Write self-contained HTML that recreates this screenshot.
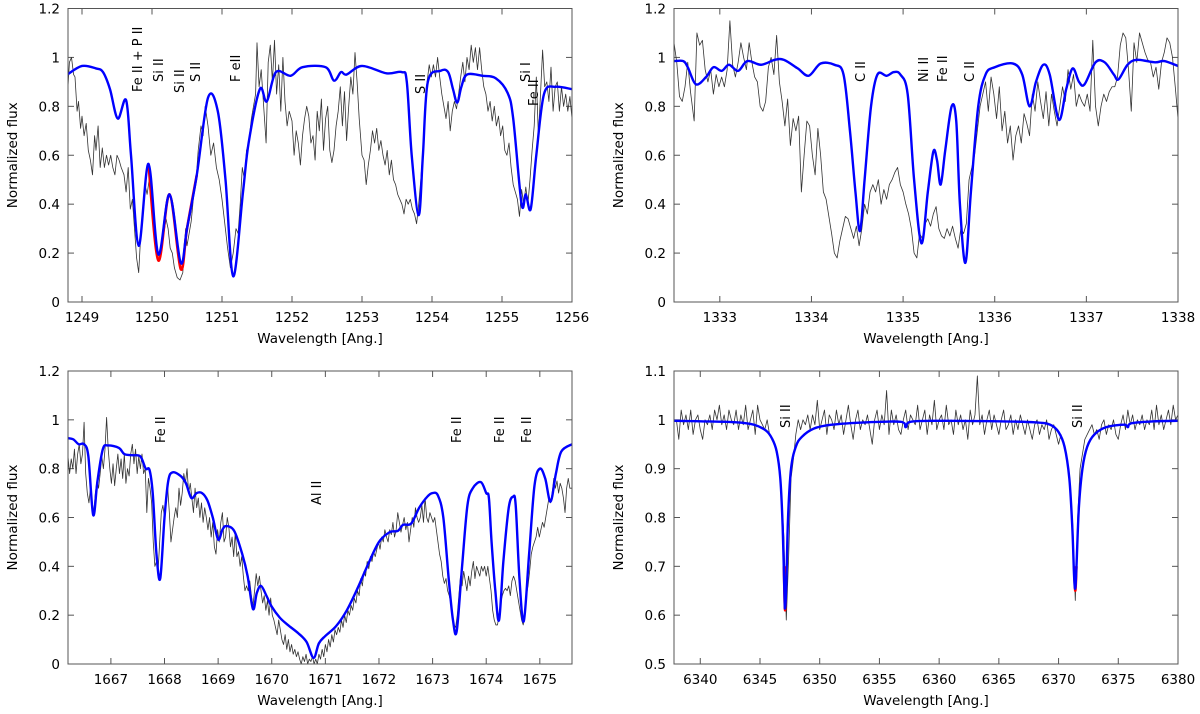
<!DOCTYPE html>
<html><head><meta charset="utf-8">
<style>
html,body{margin:0;padding:0;background:#fff;}
svg{display:block;font-family:"DejaVu Sans","Liberation Sans",sans-serif;}
</style></head>
<body>
<svg id="fig" width="1200" height="714" viewBox="0 0 1200 714" xmlns="http://www.w3.org/2000/svg"></svg>
<script>
// ---------- Panel 1 data (Si II 1250 region) ----------
const p1XTicks = [1249,1250,1251,1252,1253,1254,1255,1256];
const p1YTicks = [0,0.2,0.4,0.6,0.8,1,1.2];
const p1Obs = [[1248.8,0.88],[1248.82,0.98],[1248.85,1.0],[1248.88,0.93],[1248.9,0.92],[1248.93,0.78],[1248.95,0.82],[1248.98,0.71],[1249.0,0.76],[1249.03,0.68],[1249.06,0.73],[1249.09,0.62],[1249.12,0.58],[1249.15,0.52],[1249.18,0.68],[1249.2,0.62],[1249.23,0.72],[1249.26,0.55],[1249.29,0.63],[1249.32,0.55],[1249.35,0.6],[1249.38,0.56],[1249.41,0.6],[1249.44,0.55],[1249.47,0.52],[1249.5,0.6],[1249.53,0.58],[1249.56,0.55],[1249.6,0.52],[1249.63,0.45],[1249.66,0.55],[1249.69,0.38],[1249.72,0.42],[1249.75,0.3],[1249.78,0.18],[1249.81,0.12],[1249.84,0.28],[1249.87,0.35],[1249.9,0.48],[1249.93,0.44],[1249.96,0.5],[1249.99,0.4],[1250.02,0.32],[1250.05,0.22],[1250.08,0.18],[1250.11,0.2],[1250.14,0.25],[1250.17,0.28],[1250.2,0.34],[1250.23,0.3],[1250.26,0.22],[1250.29,0.2],[1250.32,0.14],[1250.36,0.1],[1250.4,0.09],[1250.44,0.12],[1250.48,0.3],[1250.5,0.23],[1250.53,0.28],[1250.56,0.33],[1250.6,0.45],[1250.63,0.5],[1250.66,0.62],[1250.7,0.72],[1250.73,0.68],[1250.76,0.8],[1250.8,0.72],[1250.84,0.6],[1250.88,0.65],[1250.92,0.55],[1250.96,0.5],[1251.0,0.42],[1251.04,0.32],[1251.08,0.22],[1251.12,0.14],[1251.16,0.2],[1251.2,0.3],[1251.23,0.28],[1251.26,0.4],[1251.29,0.55],[1251.32,0.5],[1251.35,0.62],[1251.38,0.65],[1251.42,0.75],[1251.45,0.8],[1251.48,0.85],[1251.5,1.06],[1251.53,0.88],[1251.56,0.95],[1251.6,0.78],[1251.63,0.65],[1251.66,0.98],[1251.69,1.05],[1251.72,0.9],[1251.75,1.07],[1251.78,0.85],[1251.81,0.97],[1251.84,0.78],[1251.87,1.0],[1251.9,0.82],[1251.93,0.72],[1251.96,0.78],[1252.0,0.74],[1252.03,0.6],[1252.06,0.7],[1252.09,0.65],[1252.12,0.56],[1252.15,0.68],[1252.18,0.75],[1252.21,0.8],[1252.24,0.76],[1252.27,0.65],[1252.3,0.68],[1252.33,0.58],[1252.36,0.78],[1252.39,0.7],[1252.42,0.83],[1252.45,0.62],[1252.48,0.75],[1252.51,0.8],[1252.54,0.62],[1252.57,0.57],[1252.6,0.62],[1252.63,0.72],[1252.66,0.78],[1252.69,0.88],[1252.72,0.72],[1252.75,0.86],[1252.78,0.66],[1252.81,0.8],[1252.84,0.92],[1252.87,0.85],[1252.9,1.02],[1252.93,0.9],[1252.96,0.75],[1253.0,0.6],[1253.03,0.58],[1253.06,0.48],[1253.09,0.56],[1253.12,0.62],[1253.15,0.7],[1253.18,0.65],[1253.21,0.71],[1253.24,0.62],[1253.27,0.66],[1253.3,0.6],[1253.33,0.56],[1253.36,0.62],[1253.39,0.52],[1253.42,0.58],[1253.45,0.5],[1253.48,0.48],[1253.51,0.44],[1253.54,0.42],[1253.57,0.4],[1253.6,0.36],[1253.63,0.42],[1253.66,0.4],[1253.69,0.42],[1253.72,0.38],[1253.75,0.36],[1253.78,0.32],[1253.81,0.4],[1253.84,0.5],[1253.87,0.62],[1253.9,0.8],[1253.93,0.9],[1253.96,0.97],[1253.99,0.92],[1254.02,0.97],[1254.05,0.92],[1254.08,1.0],[1254.11,0.92],[1254.14,0.85],[1254.17,0.8],[1254.2,0.75],[1254.23,0.82],[1254.26,0.7],[1254.29,0.78],[1254.32,0.82],[1254.35,0.79],[1254.38,0.85],[1254.41,0.92],[1254.44,0.98],[1254.47,0.9],[1254.5,1.0],[1254.53,0.95],[1254.56,1.05],[1254.59,0.98],[1254.62,1.04],[1254.65,0.95],[1254.68,1.04],[1254.71,0.95],[1254.74,0.88],[1254.77,0.85],[1254.8,0.78],[1254.83,0.82],[1254.86,0.74],[1254.89,0.8],[1254.92,0.72],[1254.95,0.76],[1254.98,0.68],[1255.01,0.72],[1255.04,0.62],[1255.07,0.6],[1255.1,0.65],[1255.13,0.55],[1255.16,0.48],[1255.19,0.45],[1255.22,0.42],[1255.25,0.35],[1255.28,0.46],[1255.31,0.4],[1255.34,0.47],[1255.37,0.4],[1255.4,0.5],[1255.43,0.62],[1255.46,0.72],[1255.49,0.92],[1255.52,0.68],[1255.55,0.85],[1255.58,1.03],[1255.61,0.88],[1255.64,0.9],[1255.67,0.82],[1255.7,0.96],[1255.73,0.78],[1255.76,0.88],[1255.79,0.9],[1255.82,0.78],[1255.85,0.88],[1255.88,0.8],[1255.91,0.85],[1255.94,0.78],[1255.97,0.84],[1256.0,0.75]];
const p1Model = [[1248.79,0.93],[1249.0,0.965],[1249.2,0.955],[1249.3,0.94],[1249.4,0.87],[1249.51,0.75],[1249.63,0.825],[1249.7,0.6],[1249.81,0.23],[1249.95,0.565],[1250.09,0.195],[1250.25,0.44],[1250.41,0.16],[1250.5,0.3],[1250.64,0.52],[1250.8,0.835],[1250.94,0.78],[1251.05,0.5],[1251.16,0.105],[1251.3,0.45],[1251.38,0.65],[1251.54,0.87],[1251.64,0.82],[1251.77,0.94],[1251.98,0.925],[1252.15,0.96],[1252.48,0.96],[1252.6,0.905],[1252.7,0.94],[1252.78,0.93],[1253.0,0.965],[1253.35,0.935],[1253.57,0.94],[1253.64,0.9],[1253.71,0.6],[1253.81,0.355],[1253.87,0.6],[1253.94,0.9],[1254.12,0.945],[1254.23,0.94],[1254.3,0.87],[1254.36,0.815],[1254.42,0.88],[1254.5,0.93],[1254.72,0.925],[1254.91,0.915],[1255.08,0.855],[1255.16,0.75],[1255.28,0.4],[1255.34,0.44],[1255.41,0.38],[1255.49,0.6],[1255.6,0.85],[1255.76,0.88],[1256.0,0.87]];
const p1Red = [[1249.95,0.565],[1250.09,0.17],[1250.25,0.44],[1250.41,0.135],[1250.5,0.3],[1250.64,0.52]];
const p1Lines = ["Fe II + P II","Si II","Si II","S II","F eII","S II","Si I","Fe II"];
const p1LineX = [137,158,179,195,235,420,525,533];
const p1LineBottom = [92,82,93,82,82,94,82,106];

// ---------- Panel 2 data (C II 1335 region) ----------
const p2XTicks = [1333,1334,1335,1336,1337,1338];
const p2YTicks = [0,0.2,0.4,0.6,0.8,1,1.2];
const p2Obs = [[1332.5,1.06],[1332.53,0.98],[1332.56,0.84],[1332.59,0.82],[1332.62,0.88],[1332.65,0.98],[1332.68,0.86],[1332.72,0.74],[1332.75,1.1],[1332.78,1.05],[1332.81,1.07],[1332.84,0.95],[1332.87,0.9],[1332.9,0.95],[1332.93,0.85],[1332.96,0.93],[1332.99,0.88],[1333.02,0.92],[1333.05,0.88],[1333.08,0.95],[1333.11,1.15],[1333.14,0.97],[1333.17,0.92],[1333.2,0.98],[1333.23,1.06],[1333.26,1.0],[1333.29,0.95],[1333.32,1.06],[1333.35,0.98],[1333.38,0.92],[1333.41,0.9],[1333.44,0.8],[1333.47,0.78],[1333.5,0.82],[1333.53,0.96],[1333.56,1.0],[1333.59,0.93],[1333.62,1.09],[1333.65,0.9],[1333.68,0.82],[1333.71,0.72],[1333.74,0.83],[1333.77,0.64],[1333.8,0.75],[1333.83,0.7],[1333.86,0.76],[1333.89,0.45],[1333.92,0.6],[1333.95,0.74],[1333.98,0.72],[1334.01,0.6],[1334.04,0.52],[1334.07,0.71],[1334.1,0.6],[1334.13,0.45],[1334.16,0.42],[1334.19,0.35],[1334.22,0.28],[1334.25,0.2],[1334.28,0.18],[1334.31,0.25],[1334.34,0.3],[1334.37,0.35],[1334.4,0.34],[1334.43,0.3],[1334.46,0.26],[1334.49,0.31],[1334.52,0.23],[1334.55,0.3],[1334.58,0.4],[1334.61,0.36],[1334.64,0.45],[1334.67,0.48],[1334.7,0.45],[1334.73,0.5],[1334.76,0.4],[1334.79,0.46],[1334.82,0.42],[1334.85,0.48],[1334.88,0.5],[1334.91,0.53],[1334.94,0.55],[1334.97,0.48],[1335.0,0.45],[1335.03,0.4],[1335.06,0.36],[1335.09,0.3],[1335.12,0.2],[1335.15,0.18],[1335.18,0.28],[1335.21,0.26],[1335.24,0.32],[1335.27,0.34],[1335.3,0.31],[1335.33,0.36],[1335.36,0.39],[1335.39,0.3],[1335.42,0.27],[1335.45,0.26],[1335.48,0.3],[1335.51,0.27],[1335.54,0.31],[1335.57,0.26],[1335.6,0.22],[1335.63,0.3],[1335.66,0.28],[1335.69,0.32],[1335.72,0.5],[1335.75,0.55],[1335.78,0.6],[1335.81,0.7],[1335.84,0.8],[1335.87,0.85],[1335.9,0.9],[1335.93,0.78],[1335.96,0.92],[1335.99,0.85],[1336.02,0.75],[1336.05,0.88],[1336.08,0.7],[1336.11,0.78],[1336.14,0.65],[1336.17,0.72],[1336.2,0.58],[1336.23,0.68],[1336.26,0.72],[1336.29,0.65],[1336.32,0.77],[1336.35,0.73],[1336.38,0.68],[1336.41,0.85],[1336.44,0.78],[1336.47,0.9],[1336.5,0.82],[1336.53,0.75],[1336.56,0.86],[1336.59,0.72],[1336.62,0.85],[1336.65,0.78],[1336.68,0.72],[1336.71,0.8],[1336.74,0.88],[1336.77,0.82],[1336.8,0.95],[1336.83,0.87],[1336.86,0.93],[1336.89,0.8],[1336.92,0.85],[1336.95,0.82],[1336.98,0.8],[1337.01,0.85],[1337.04,0.78],[1337.07,1.07],[1337.1,0.8],[1337.13,0.72],[1337.16,0.8],[1337.19,0.85],[1337.22,0.82],[1337.25,0.86],[1337.28,0.88],[1337.31,0.88],[1337.34,0.92],[1337.37,1.05],[1337.4,1.1],[1337.43,1.08],[1337.46,0.95],[1337.49,0.78],[1337.52,1.06],[1337.55,0.98],[1337.58,1.1],[1337.61,1.06],[1337.64,1.02],[1337.67,0.99],[1337.7,0.98],[1337.73,0.92],[1337.76,0.96],[1337.79,0.87],[1337.82,0.98],[1337.85,1.02],[1337.88,1.08],[1337.91,1.06],[1337.94,1.0],[1337.97,0.88],[1338.0,0.75]];
const p2Model = [[1332.5,0.985],[1332.6,0.985],[1332.65,0.96],[1332.74,0.89],[1332.85,0.92],[1332.93,0.96],[1333.02,0.945],[1333.1,0.97],[1333.2,0.945],[1333.3,0.985],[1333.45,0.97],[1333.6,0.99],[1333.7,0.99],[1333.85,0.955],[1333.97,0.925],[1334.1,0.975],[1334.25,0.97],[1334.35,0.93],[1334.42,0.7],[1334.48,0.45],[1334.53,0.29],[1334.58,0.5],[1334.65,0.8],[1334.72,0.93],[1334.82,0.925],[1334.9,0.94],[1334.97,0.93],[1335.05,0.85],[1335.12,0.5],[1335.2,0.24],[1335.27,0.45],[1335.33,0.615],[1335.37,0.58],[1335.41,0.48],[1335.46,0.62],[1335.53,0.8],[1335.58,0.74],[1335.62,0.4],[1335.68,0.16],[1335.74,0.45],[1335.82,0.8],[1335.9,0.93],[1336.0,0.96],[1336.2,0.975],[1336.3,0.93],[1336.38,0.8],[1336.45,0.9],[1336.53,0.97],[1336.6,0.93],[1336.7,0.745],[1336.78,0.87],[1336.85,0.955],[1336.92,0.9],[1336.98,0.89],[1337.1,0.98],[1337.2,0.98],[1337.3,0.93],[1337.35,0.91],[1337.45,0.97],[1337.55,0.99],[1337.75,0.98],[1337.85,0.985],[1338.0,0.965]];
const p2Lines = ["C II","Ni II","Fe II","C II"];
const p2LineX = [860,923,942,969];
const p2LineBottom = [82,82,82,82];

// ---------- Panel 3 data (Al II 1671 region) ----------
const p3XTicks = [1667,1668,1669,1670,1671,1672,1673,1674,1675];
const p3YTicks = [0,0.2,0.4,0.6,0.8,1,1.2];
const p3Obs = [[1666.2,0.85],[1666.23,0.78],[1666.26,0.84],[1666.29,0.8],[1666.32,0.88],[1666.35,0.78],[1666.38,0.86],[1666.41,0.9],[1666.44,0.82],[1666.47,0.86],[1666.5,0.99],[1666.53,0.78],[1666.56,0.7],[1666.59,0.66],[1666.62,0.72],[1666.65,0.64],[1666.68,0.62],[1666.71,0.7],[1666.74,0.75],[1666.77,0.72],[1666.8,0.78],[1666.83,0.85],[1666.86,0.8],[1666.89,0.88],[1666.92,1.01],[1666.95,0.88],[1666.98,0.8],[1667.01,0.74],[1667.04,0.82],[1667.07,0.73],[1667.1,0.8],[1667.13,0.86],[1667.16,0.78],[1667.19,0.84],[1667.22,0.76],[1667.25,0.86],[1667.28,0.74],[1667.31,0.8],[1667.34,0.77],[1667.37,0.86],[1667.4,0.9],[1667.43,0.82],[1667.46,0.88],[1667.49,0.78],[1667.52,0.85],[1667.55,0.8],[1667.58,0.86],[1667.61,0.78],[1667.64,0.8],[1667.67,0.62],[1667.7,0.76],[1667.73,0.72],[1667.76,0.66],[1667.79,0.5],[1667.82,0.4],[1667.85,0.42],[1667.88,0.38],[1667.91,0.5],[1667.94,0.62],[1667.97,0.65],[1668.0,0.6],[1668.03,0.66],[1668.06,0.72],[1668.09,0.62],[1668.12,0.5],[1668.15,0.55],[1668.18,0.6],[1668.21,0.64],[1668.24,0.6],[1668.27,0.72],[1668.3,0.65],[1668.33,0.7],[1668.36,0.78],[1668.39,0.74],[1668.42,0.8],[1668.45,0.7],[1668.48,0.74],[1668.51,0.68],[1668.54,0.62],[1668.57,0.72],[1668.6,0.64],[1668.63,0.68],[1668.66,0.6],[1668.69,0.66],[1668.72,0.58],[1668.75,0.64],[1668.78,0.6],[1668.81,0.55],[1668.84,0.6],[1668.87,0.52],[1668.9,0.58],[1668.93,0.48],[1668.96,0.45],[1668.99,0.55],[1669.02,0.5],[1669.05,0.58],[1669.08,0.62],[1669.11,0.5],[1669.14,0.52],[1669.17,0.6],[1669.2,0.56],[1669.23,0.48],[1669.26,0.52],[1669.29,0.44],[1669.32,0.54],[1669.35,0.44],[1669.38,0.46],[1669.41,0.4],[1669.44,0.44],[1669.47,0.36],[1669.5,0.3],[1669.53,0.32],[1669.56,0.3],[1669.59,0.34],[1669.62,0.28],[1669.65,0.24],[1669.68,0.3],[1669.71,0.37],[1669.74,0.32],[1669.77,0.36],[1669.8,0.3],[1669.83,0.25],[1669.86,0.28],[1669.89,0.22],[1669.92,0.26],[1669.95,0.2],[1669.98,0.27],[1670.01,0.2],[1670.04,0.18],[1670.07,0.15],[1670.1,0.12],[1670.13,0.18],[1670.16,0.14],[1670.19,0.1],[1670.22,0.08],[1670.25,0.12],[1670.28,0.06],[1670.31,0.1],[1670.34,0.05],[1670.37,0.08],[1670.4,0.04],[1670.43,0.06],[1670.46,0.03],[1670.49,0.05],[1670.52,0.02],[1670.55,0.0],[1670.58,0.03],[1670.61,0.01],[1670.64,0.04],[1670.67,0.0],[1670.7,0.02],[1670.73,0.01],[1670.76,0.03],[1670.79,0.0],[1670.82,0.02],[1670.85,0.0],[1670.88,0.04],[1670.91,0.02],[1670.94,0.06],[1670.97,0.03],[1671.0,0.08],[1671.03,0.05],[1671.06,0.1],[1671.09,0.07],[1671.12,0.12],[1671.15,0.09],[1671.18,0.14],[1671.21,0.12],[1671.24,0.15],[1671.27,0.13],[1671.3,0.18],[1671.33,0.15],[1671.36,0.2],[1671.39,0.17],[1671.42,0.22],[1671.45,0.2],[1671.48,0.24],[1671.51,0.22],[1671.54,0.27],[1671.57,0.25],[1671.6,0.3],[1671.63,0.28],[1671.66,0.35],[1671.69,0.32],[1671.72,0.38],[1671.75,0.36],[1671.78,0.42],[1671.81,0.39],[1671.84,0.44],[1671.87,0.42],[1671.9,0.46],[1671.93,0.44],[1671.96,0.47],[1671.99,0.5],[1672.02,0.47],[1672.05,0.52],[1672.08,0.5],[1672.11,0.55],[1672.14,0.52],[1672.17,0.5],[1672.2,0.55],[1672.23,0.53],[1672.26,0.58],[1672.29,0.52],[1672.32,0.55],[1672.35,0.62],[1672.38,0.58],[1672.41,0.54],[1672.44,0.57],[1672.47,0.6],[1672.5,0.55],[1672.53,0.58],[1672.56,0.5],[1672.59,0.55],[1672.62,0.6],[1672.65,0.56],[1672.68,0.64],[1672.71,0.6],[1672.74,0.58],[1672.77,0.6],[1672.8,0.65],[1672.83,0.58],[1672.86,0.68],[1672.89,0.6],[1672.92,0.58],[1672.95,0.62],[1672.98,0.6],[1673.01,0.58],[1673.04,0.6],[1673.07,0.55],[1673.1,0.5],[1673.13,0.45],[1673.16,0.42],[1673.19,0.36],[1673.22,0.33],[1673.25,0.35],[1673.28,0.3],[1673.31,0.28],[1673.34,0.25],[1673.37,0.2],[1673.4,0.16],[1673.43,0.15],[1673.46,0.2],[1673.49,0.28],[1673.52,0.36],[1673.55,0.32],[1673.58,0.38],[1673.61,0.34],[1673.64,0.3],[1673.67,0.36],[1673.7,0.32],[1673.73,0.38],[1673.76,0.42],[1673.79,0.35],[1673.82,0.4],[1673.85,0.38],[1673.88,0.36],[1673.91,0.4],[1673.94,0.38],[1673.97,0.4],[1674.0,0.36],[1674.03,0.4],[1674.06,0.35],[1674.09,0.3],[1674.12,0.22],[1674.15,0.18],[1674.18,0.16],[1674.21,0.16],[1674.24,0.2],[1674.27,0.25],[1674.3,0.28],[1674.33,0.3],[1674.36,0.31],[1674.39,0.3],[1674.42,0.32],[1674.45,0.28],[1674.48,0.34],[1674.51,0.36],[1674.54,0.34],[1674.57,0.3],[1674.6,0.26],[1674.63,0.22],[1674.66,0.18],[1674.69,0.16],[1674.72,0.2],[1674.75,0.28],[1674.78,0.32],[1674.81,0.38],[1674.84,0.45],[1674.87,0.48],[1674.9,0.5],[1674.93,0.52],[1674.96,0.56],[1674.99,0.52],[1675.02,0.55],[1675.05,0.58],[1675.08,0.56],[1675.11,0.6],[1675.14,0.64],[1675.17,0.68],[1675.2,0.66],[1675.23,0.7],[1675.26,0.76],[1675.29,0.72],[1675.32,0.75],[1675.35,0.7],[1675.38,0.74],[1675.41,0.72],[1675.44,0.68],[1675.47,0.62],[1675.5,0.72],[1675.53,0.76],[1675.56,0.72],[1675.6,0.72]];
const p3Model = [[1666.2,0.925],[1666.3,0.92],[1666.4,0.9],[1666.5,0.9],[1666.58,0.85],[1666.67,0.61],[1666.75,0.75],[1666.85,0.88],[1666.95,0.895],[1667.15,0.885],[1667.25,0.86],[1667.4,0.855],[1667.55,0.85],[1667.65,0.8],[1667.72,0.795],[1667.78,0.7],[1667.85,0.45],[1667.92,0.35],[1668.0,0.6],[1668.07,0.75],[1668.15,0.785],[1668.3,0.77],[1668.4,0.74],[1668.5,0.68],[1668.6,0.7],[1668.7,0.7],[1668.8,0.67],[1668.9,0.6],[1669.0,0.51],[1669.08,0.55],[1669.15,0.565],[1669.3,0.545],[1669.45,0.45],[1669.55,0.36],[1669.65,0.225],[1669.72,0.29],[1669.8,0.32],[1669.9,0.28],[1670.0,0.235],[1670.15,0.19],[1670.3,0.16],[1670.5,0.125],[1670.65,0.09],[1670.78,0.025],[1670.88,0.085],[1671.0,0.115],[1671.2,0.155],[1671.4,0.22],[1671.6,0.31],[1671.8,0.41],[1672.0,0.5],[1672.2,0.54],[1672.35,0.545],[1672.45,0.57],[1672.6,0.575],[1672.75,0.64],[1672.9,0.685],[1673.0,0.7],[1673.1,0.69],[1673.2,0.6],[1673.3,0.35],[1673.38,0.18],[1673.45,0.135],[1673.55,0.4],[1673.65,0.65],[1673.75,0.72],[1673.9,0.745],[1674.0,0.7],[1674.05,0.68],[1674.1,0.5],[1674.17,0.3],[1674.24,0.18],[1674.32,0.42],[1674.42,0.64],[1674.5,0.685],[1674.55,0.65],[1674.62,0.35],[1674.7,0.175],[1674.8,0.45],[1674.9,0.73],[1675.0,0.8],[1675.1,0.76],[1675.2,0.665],[1675.3,0.78],[1675.4,0.87],[1675.6,0.9]];
const p3Lines = ["Fe II","Al II","Fe II","Fe II","Fe II"];
const p3LineX = [160,316,456,499,526];
const p3LineBottom = [443,505,443,443,443];

// ---------- Panel 4 data (Si II 6347/6371) ----------
const p4XTicks = [6340,6345,6350,6355,6360,6365,6370,6375,6380];
const p4YTicks = [0.5,0.6,0.7,0.8,0.9,1,1.1];
const p4ObsStart = 6338.0;
const p4ObsStep = 0.2;
const p4ObsFlux = [1.0,0.96,1.02,0.99,1.01,0.98,1.02,0.97,1.0,1.01,0.98,0.96,1.0,0.99,1.01,0.98,1.02,1.0,1.03,0.99,1.01,0.98,1.02,1.0,0.99,1.02,0.98,1.01,0.99,1.03,0.98,1.0,1.02,0.97,1.03,1.0,
0.99,0.98,1.0,0.97,0.96,0.95,0.93,0.9,0.85,0.76,0.59,0.72,0.88,0.92,0.97,1.0,0.98,1.0,0.99,1.01,
0.98,1.01,0.99,1.04,0.98,1.0,1.02,0.97,1.01,1.0,0.98,1.02,0.99,1.01,0.97,1.0,1.03,0.99,0.96,1.0,1.02,0.98,1.0,0.99,1.01,0.98,0.95,1.0,1.02,0.98,1.01,0.99,1.06,0.97,1.02,0.99,1.01,0.98,0.97,1.0,1.02,0.98,1.01,1.0,0.99,1.03,0.98,1.0,1.02,0.97,1.01,0.99,1.04,0.98,1.0,
1.01,0.98,1.03,0.99,1.0,0.97,1.02,0.99,1.01,0.98,1.0,0.96,1.02,0.99,1.01,1.09,0.99,1.01,0.97,1.0,1.02,0.98,1.01,0.99,0.97,1.0,1.02,0.98,0.99,1.01,0.97,1.0,0.98,1.01,0.99,0.97,1.0,0.98,0.96,0.99,1.0,0.97,0.99,0.98,1.0,0.96,0.98,0.99,0.97,0.95,
0.97,0.95,0.93,0.9,0.86,0.78,0.63,0.8,0.9,0.93,0.96,0.97,0.98,0.99,0.97,
0.98,0.96,0.99,1.0,0.97,0.99,0.98,1.0,0.97,0.96,0.99,1.01,0.98,1.02,0.99,1.01,0.98,1.0,0.99,1.01,0.98,1.0,0.99,1.02,0.98,1.03,0.99,1.01,0.98,1.0,1.02,0.99,1.03,1.0,1.01];
const p4Model = [[6337.8,0.998],[6340,0.997],[6343,0.995],[6344.5,0.99],[6345.5,0.978],[6346.0,0.962],[6346.4,0.935],[6346.7,0.88],[6346.9,0.78],[6347.05,0.64],[6347.1,0.615],[6347.2,0.66],[6347.35,0.8],[6347.6,0.9],[6348.0,0.945],[6348.5,0.965],[6349.5,0.982],[6351,0.99],[6354,0.995],[6356.8,0.996],[6357.2,0.985],[6357.6,0.996],[6360,0.998],[6365,0.997],[6368,0.995],[6369.3,0.99],[6370.0,0.975],[6370.5,0.945],[6370.9,0.88],[6371.15,0.78],[6371.3,0.68],[6371.4,0.655],[6371.5,0.7],[6371.7,0.82],[6372.0,0.9],[6372.4,0.945],[6373.0,0.97],[6374,0.985],[6375.5,0.99],[6375.8,0.985],[6376.1,0.993],[6378,0.997],[6380,0.998]];
const p4Red = [[6347.0,0.7],[6347.1,0.61],[6347.2,0.7]];
const p4Red2 = [[6371.3,0.7],[6371.4,0.65],[6371.5,0.7]];
const p4Lines = ["Si II","Si II"];
const p4LineX = [785,1077];
const p4LineBottom = [428,428];

// ---------- layout ----------
const NS = "http://www.w3.org/2000/svg";
const svg = document.getElementById('fig');
function mk(tag, attrs, parent){
  const e = document.createElementNS(NS, tag);
  for (const k in attrs) e.setAttribute(k, attrs[k]);
  (parent||svg).appendChild(e);
  return e;
}
function linePath(pts, sx, sy){
  return pts.map((p,i)=>(i?'L':'M')+sx(p[0]).toFixed(2)+' '+sy(p[1]).toFixed(2)).join(' ');
}
function smoothPath(pts, sx, sy){
  const P = pts.map(p=>[sx(p[0]), sy(p[1])]);
  let d = 'M'+P[0][0].toFixed(2)+' '+P[0][1].toFixed(2);
  for (let i=0;i<P.length-1;i++){
    const p0=P[Math.max(0,i-1)], p1=P[i], p2=P[i+1], p3=P[Math.min(P.length-1,i+2)];
    const c1x=p1[0]+(p2[0]-p0[0])/6, c1y=p1[1]+(p2[1]-p0[1])/6;
    const c2x=p2[0]-(p3[0]-p1[0])/6, c2y=p2[1]-(p3[1]-p1[1])/6;
    d += ' C'+c1x.toFixed(2)+' '+c1y.toFixed(2)+' '+c2x.toFixed(2)+' '+c2y.toFixed(2)+' '+p2[0].toFixed(2)+' '+p2[1].toFixed(2);
  }
  return d;
}
function fmt(v){ return String(Math.round(v*10)/10); }

function drawPanel(id, box, xdom, ydom, xticks, yticks, obs, model, reds, lines, lineX, lineBottom){
  const g = mk('g', {});
  
  
  const sx = v => box.x0 + (v - xdom[0])/(xdom[1]-xdom[0])*(box.x1-box.x0);
  const sy = v => box.y1 - (v - ydom[0])/(ydom[1]-ydom[0])*(box.y1-box.y0);
  const clipId = id+'-clip';
  const cp = mk('clipPath', {id: clipId}, g);
  mk('rect', {x: box.x0, y: box.y0, width: box.x1-box.x0, height: box.y1-box.y0}, cp);

  // ticks
  const tg = mk('g', {stroke:'#555', 'stroke-width':1}, g);
  
  
  xticks.forEach(t=>{
    const x = sx(t);
    mk('line',{x1:x,y1:box.y1,x2:x,y2:box.y1-6},tg);
    mk('line',{x1:x,y1:box.y0,x2:x,y2:box.y0+6},tg);
    const lab = mk('text',{x:x,y:box.y1+20,'text-anchor':'middle','font-size':13.5,fill:'#000',stroke:'none'},g);
    
    
    lab.textContent = String(t);
  });
  yticks.forEach(t=>{
    const y = sy(t);
    mk('line',{x1:box.x0,y1:y,x2:box.x0+6,y2:y},tg);
    mk('line',{x1:box.x1,y1:y,x2:box.x1-6,y2:y},tg);
    const lab = mk('text',{x:box.x0-8,y:y+5,'text-anchor':'end','font-size':13.5,fill:'#000'},g);
    
    
    lab.textContent = fmt(t);
  });

  // data
  const dg = mk('g', {'clip-path':'url(#'+clipId+')'}, g);
  const ob = mk('path',{d:linePath(obs,sx,sy),fill:'none',stroke:'#333','stroke-width':0.8,'stroke-linejoin':'round'},dg);
  
  
  reds.forEach(r=>{
    const rp = mk('path',{d:smoothPath(r,sx,sy),fill:'none',stroke:'#ff0000','stroke-width':2.6},dg);
    
    
  });
  const mp = mk('path',{d:smoothPath(model,sx,sy),fill:'none',stroke:'#0000ff','stroke-width':2.4,'stroke-linejoin':'round'},dg);
  
  

  // frame
  const fr = mk('rect',{x:box.x0,y:box.y0,width:box.x1-box.x0,height:box.y1-box.y0,fill:'none',stroke:'#555','stroke-width':1},g);
  
  

  // line labels
  lines.forEach((s,i)=>{
    const t = mk('text',{transform:'translate('+(lineX[i]+5)+','+lineBottom[i]+') rotate(-90)','font-size':13,fill:'#000'},g);
    
    
    t.textContent = s;
  });

  // axis titles
  const xt = mk('text',{x:(box.x0+box.x1)/2,y:box.y1+41,'text-anchor':'middle','font-size':13.5,fill:'#000'},g);
  
  
  xt.textContent = 'Wavelength [Ang.]';
  const yt = mk('text',{transform:'translate('+(box.x0-51)+','+((box.y0+box.y1)/2)+') rotate(-90)','text-anchor':'middle','font-size':13.5,fill:'#000'},g);
  
  
  yt.textContent = 'Normalized flux';
}

const p4Obs = p4ObsFlux.map((f,i)=>[p4ObsStart + i*p4ObsStep, f]);

drawPanel('panel-1250', {x0:68,x1:572,y0:8.5,y1:302}, [1248.8,1256], [0,1.2], p1XTicks, p1YTicks, p1Obs, p1Model, [p1Red], p1Lines, p1LineX, p1LineBottom);
drawPanel('panel-1335', {x0:674,x1:1178,y0:8.5,y1:302}, [1332.5,1338], [0,1.2], p2XTicks, p2YTicks, p2Obs, p2Model, [], p2Lines, p2LineX, p2LineBottom);
drawPanel('panel-1671', {x0:68,x1:572,y0:371,y1:664}, [1666.2,1675.6], [0,1.2], p3XTicks, p3YTicks, p3Obs, p3Model, [], p3Lines, p3LineX, p3LineBottom);
drawPanel('panel-6360', {x0:674,x1:1178,y0:371,y1:664}, [6337.8,6380], [0.5,1.1], p4XTicks, p4YTicks, p4Obs, p4Model, [p4Red, p4Red2], p4Lines, p4LineX, p4LineBottom);
</script>
</body></html>
